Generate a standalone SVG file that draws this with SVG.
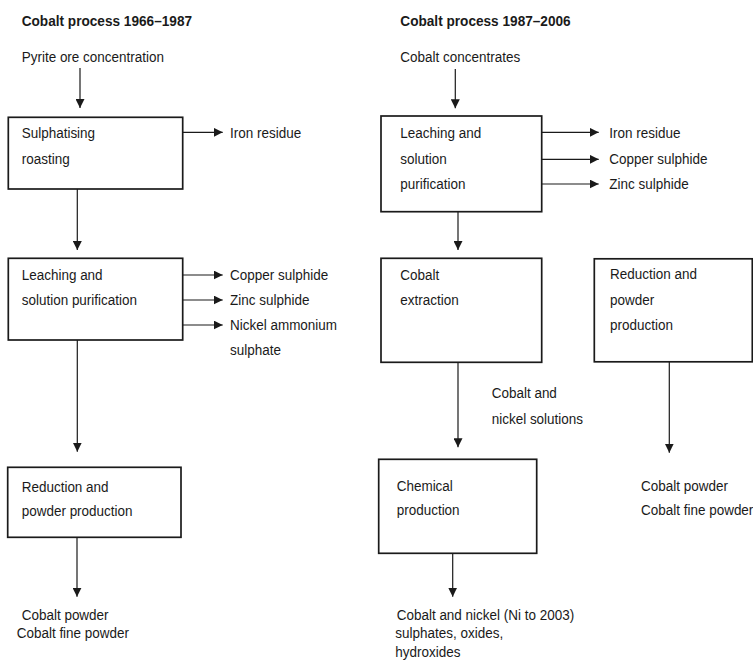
<svg xmlns="http://www.w3.org/2000/svg" width="753" height="660" viewBox="0 0 753 660">
<style>
  text { font-family: "Liberation Sans", Arial, sans-serif; font-size: 15.5px; fill: #1a1a1a; transform-box: fill-box; transform-origin: 0 50%; transform: scaleX(0.87); }
  text.title { font-weight: bold; font-size: 14.5px; transform: scaleX(0.94); }
  .box { fill: #ffffff; stroke: #1a1a1a; stroke-width: 1.7; }
  .conn line { stroke: #1a1a1a; stroke-width: 1.2; marker-end: url(#arr); }
</style>
<defs>
  <marker id="arr" markerUnits="userSpaceOnUse" markerWidth="9" markerHeight="9" refX="9" refY="4.5" orient="auto">
    <path d="M0,0 L9,4.5 L0,9 Z" fill="#1a1a1a"/>
  </marker>
</defs>
<rect width="753" height="660" fill="#ffffff"/>

<g id="titles">
  <text class="title" x="21.7" y="26">Cobalt process 1966–1987</text>
  <text class="title" x="400.3" y="26">Cobalt process 1987–2006</text>
</g>

<g id="conn" class="conn">
  <line x1="80" y1="68" x2="80" y2="108"/>
  <line x1="183" y1="132.3" x2="222.7" y2="132.3"/>
  <line x1="77.3" y1="189" x2="77.3" y2="250"/>
  <line x1="183" y1="275" x2="222.7" y2="275"/>
  <line x1="183" y1="300" x2="222.7" y2="300"/>
  <line x1="183" y1="325" x2="222.7" y2="325"/>
  <line x1="77.3" y1="340" x2="77.3" y2="451.7"/>
  <line x1="77" y1="537.3" x2="77" y2="596.7"/>
  <line x1="455.3" y1="69" x2="455.3" y2="108.3"/>
  <line x1="541.7" y1="132.3" x2="598.7" y2="132.3"/>
  <line x1="541.7" y1="159.3" x2="598.7" y2="159.3"/>
  <line x1="541.7" y1="184" x2="598.7" y2="184"/>
  <line x1="458" y1="211.7" x2="458" y2="250"/>
  <line x1="458" y1="362.3" x2="458" y2="447.3"/>
  <line x1="669.3" y1="362" x2="669.3" y2="452.7"/>
  <line x1="452.7" y1="553.3" x2="452.7" y2="596.7"/>
</g>

<g id="in-pyrite">
  <text x="21.7" y="62.5">Pyrite ore concentration</text>
</g>
<g id="roasting">
  <rect class="box" x="8.3" y="117.3" width="174.4" height="71.7"/>
  <text x="21.7" y="138">Sulphatising</text>
  <text x="21.7" y="164">roasting</text>
</g>
<g id="out-iron-1">
  <text x="230" y="138">Iron residue</text>
</g>
<g id="leaching-1">
  <rect class="box" x="8.3" y="258.3" width="174.4" height="81.7"/>
  <text x="21.7" y="280">Leaching and</text>
  <text x="21.7" y="305">solution purification</text>
</g>
<g id="out-copper-1"><text x="230" y="280">Copper sulphide</text></g>
<g id="out-zinc-1"><text x="230" y="305">Zinc sulphide</text></g>
<g id="out-nickel-1">
  <text x="230" y="330">Nickel ammonium</text>
  <text x="230" y="355.5">sulphate</text>
</g>
<g id="reduction-1">
  <rect class="box" x="7.7" y="467.3" width="173.3" height="70"/>
  <text x="21.7" y="491.7">Reduction and</text>
  <text x="21.7" y="516">powder production</text>
</g>
<g id="out-powder-1">
  <text x="21.7" y="620">Cobalt powder</text>
  <text x="16.7" y="638.3">Cobalt fine powder</text>
</g>

<g id="in-concentrates">
  <text x="400.3" y="61.7">Cobalt concentrates</text>
</g>
<g id="leaching-2">
  <rect class="box" x="381" y="116" width="160.7" height="95.7"/>
  <text x="400.3" y="138.3">Leaching and</text>
  <text x="400.3" y="164">solution</text>
  <text x="400.3" y="189.3">purification</text>
</g>
<g id="out-iron-2"><text x="609.3" y="138.3">Iron residue</text></g>
<g id="out-copper-2"><text x="609.3" y="164">Copper sulphide</text></g>
<g id="out-zinc-2"><text x="609.3" y="189.3">Zinc sulphide</text></g>
<g id="extraction">
  <rect class="box" x="381" y="258.3" width="160.7" height="104"/>
  <text x="400.3" y="280">Cobalt</text>
  <text x="400.3" y="305">extraction</text>
</g>
<g id="reduction-2">
  <rect class="box" x="594.3" y="258.8" width="158" height="103"/>
  <text x="610" y="279.5">Reduction and</text>
  <text x="610" y="305">powder</text>
  <text x="610" y="330.5">production</text>
</g>
<g id="label-solutions">
  <text x="491.7" y="398.3">Cobalt and</text>
  <text x="491.7" y="424.3">nickel solutions</text>
</g>
<g id="out-powder-2">
  <text x="641" y="490.7">Cobalt powder</text>
  <text x="641" y="515.3">Cobalt fine powder</text>
</g>
<g id="chemical">
  <rect class="box" x="378.7" y="459.3" width="158" height="94"/>
  <text x="396.7" y="490.7">Chemical</text>
  <text x="396.7" y="515.3">production</text>
</g>
<g id="out-chemicals">
  <text x="396.7" y="620">Cobalt and nickel (Ni to 2003)</text>
  <text x="395.3" y="638.3">sulphates, oxides,</text>
  <text x="395.3" y="656.7">hydroxides</text>
</g>
</svg>
